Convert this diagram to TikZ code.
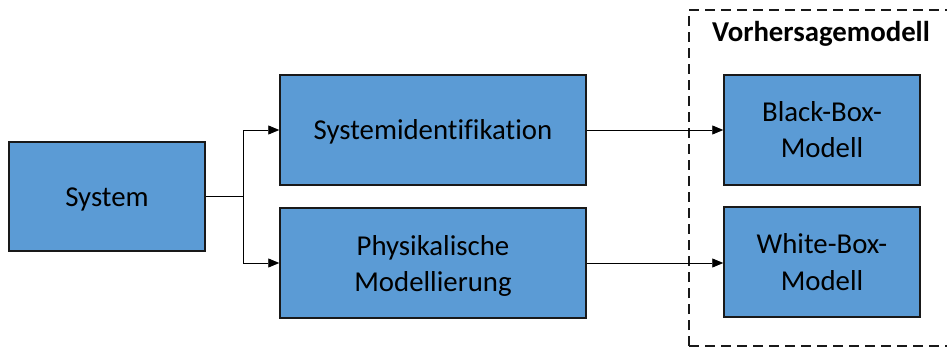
\documentclass[tikz,border=0pt]{standalone}
\usepackage{fontspec}
\setmainfont{Carlito}[Ligatures=CommonOff]
\usetikzlibrary{arrows.meta}
\definecolor{boxblue}{HTML}{5B9BD5}
% two centred lines, baseline on the first one
\newcommand{\pairlines}[2]{\begin{tabular}[t]{@{}c@{}}#1\\#2\end{tabular}}
\tikzset{
  block/.style={draw=black!90, line width=1.5pt, fill=boxblue, inner sep=0pt,
    font=\fontsize{28.8}{36}\selectfont},
  oneline/.style={text height=19.5pt, text depth=0pt},
  twoline/.style={text height=10pt, text depth=26pt},
  link/.style={draw=black, line width=0.9pt, -{Triangle[length=11pt,width=9pt]}},
  plain/.style={draw=black, line width=0.9pt},
  group/.style={draw=black!90, line width=1.5pt, dash pattern=on 10pt off 6pt}
}
\begin{document}
\begin{tikzpicture}[x=1pt,y=-1pt]
  \useasboundingbox (0,0) rectangle (947,347);
  % prediction-model group frame (runs past the right edge)
  \begin{scope}
    \clip (0,0) rectangle (947,347);
    \draw[group] (689,346) -- (689,10) -- (990,10);
    \draw[group] (689,346) -- (990,346);
  \end{scope}
  \node[font=\fontsize{28.8}{36}\selectfont\bfseries, anchor=base] (title) at (821,42) {Vorhersagemodell};

  \node[block, oneline, minimum width=196pt, minimum height=109pt] (sys) at (107,196.5) {System};
  \node[block, oneline, minimum width=306pt, minimum height=110pt] (sid) at (433,130) {Systemidentifikation};
  \node[block, twoline, minimum width=306pt, minimum height=110pt] (phy) at (433,263) {\pairlines{Physikalische}{Modellierung}};
  \node[block, twoline, minimum width=196pt, minimum height=110pt] (bb) at (822,130) {\pairlines{Black-Box-}{Modell}};
  \node[block, twoline, minimum width=196pt, minimum height=110pt] (wb) at (822,262) {\pairlines{White-Box-}{Modell}};

  \coordinate (split) at (243,196.5);
  \draw[plain] (sys.east) -- (split);
  \draw[link] (split) |- (sid.west);
  \draw[link] (split) |- (phy.west);
  \draw[link] (sid.east) -- (bb.west);
  \draw[link] (phy.east) -- (phy.east -| wb.west);
\end{tikzpicture}
\end{document}
